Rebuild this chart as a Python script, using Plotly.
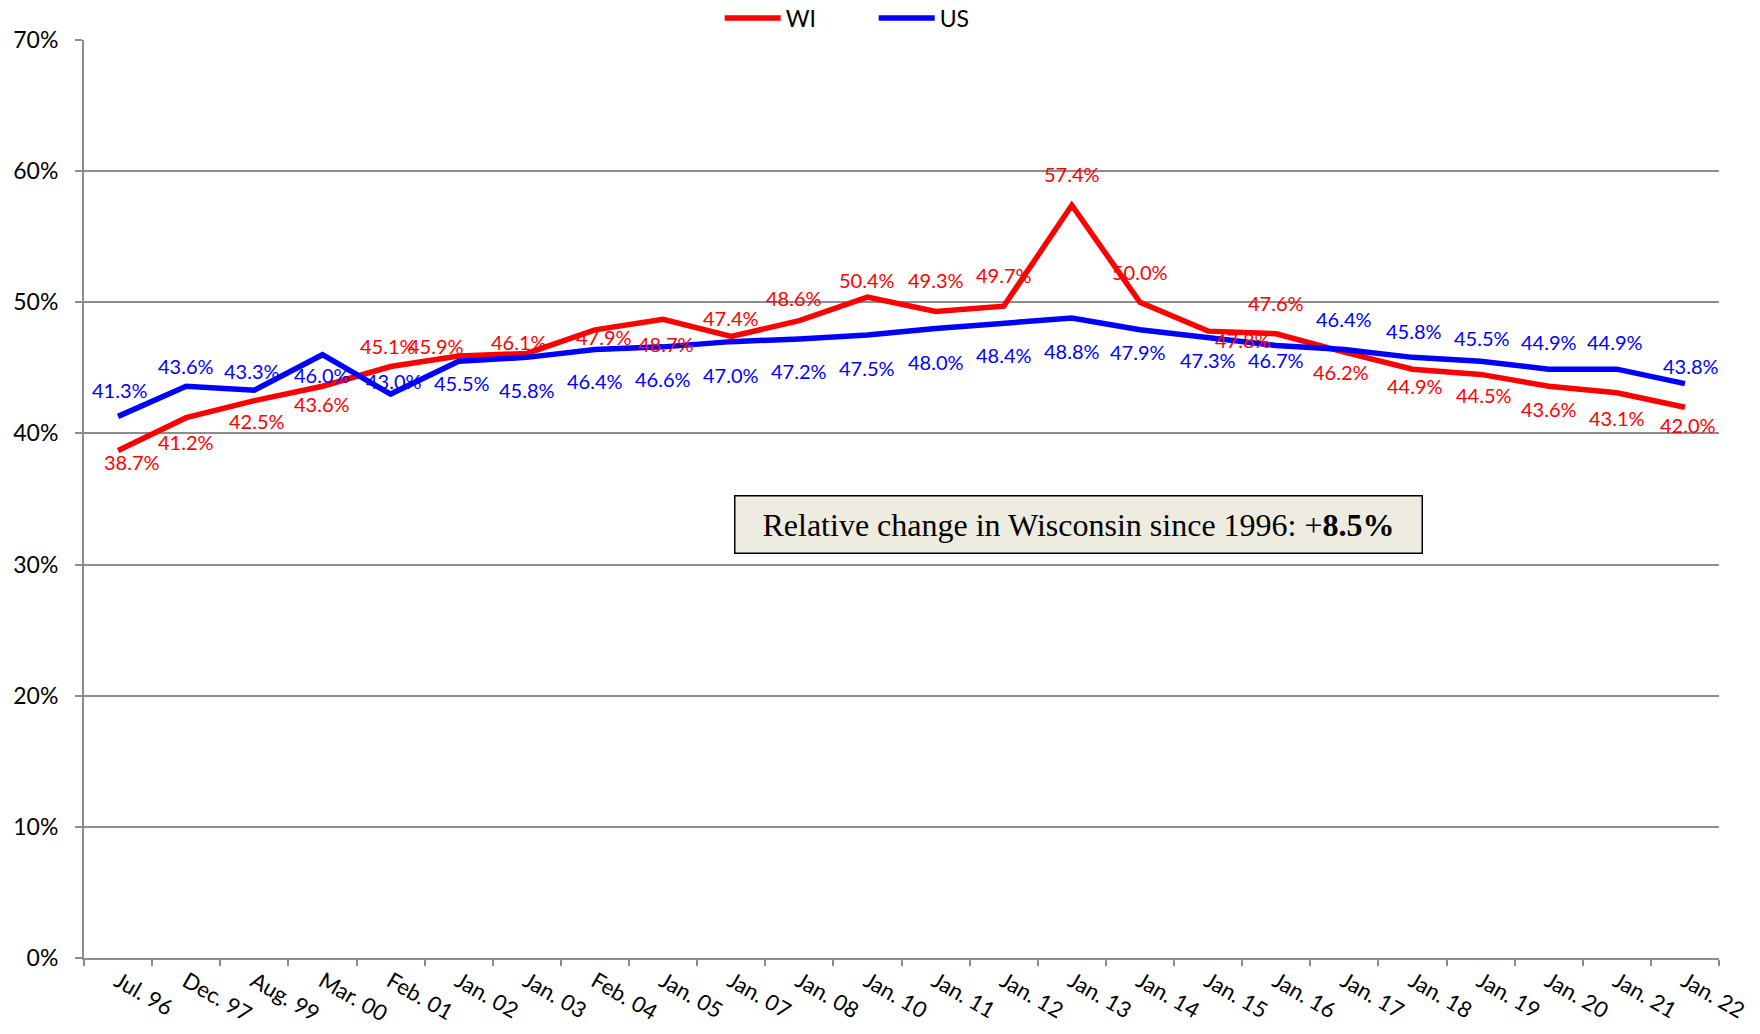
import plotly.graph_objects as go

categories = ["Jul. 96", "Dec. 97", "Aug. 99", "Mar. 00", "Feb. 01", "Jan. 02", "Jan. 03",
              "Feb. 04", "Jan. 05", "Jan. 07", "Jan. 08", "Jan. 10", "Jan. 11", "Jan. 12",
              "Jan. 13", "Jan. 14", "Jan. 15", "Jan. 16", "Jan. 17", "Jan. 18", "Jan. 19",
              "Jan. 20", "Jan. 21", "Jan. 22"]
wi_values = [38.7, 41.2, 42.5, 43.6, 45.1, 45.9, 46.1, 47.9, 48.7, 47.4, 48.6, 50.4, 49.3, 49.7,
             57.4, 50.0, 47.8, 47.6, 46.2, 44.9, 44.5, 43.6, 43.1, 42.0]
us_values = [41.3, 43.6, 43.3, 46.0, 43.0, 45.5, 45.8, 46.4, 46.6, 47.0, 47.2, 47.5, 48.0, 48.4,
             48.8, 47.9, 47.3, 46.7, 46.4, 45.8, 45.5, 44.9, 44.9, 43.8]
y_ticks = [0, 10, 20, 30, 40, 50, 60, 70]
box_text = "Relative change in Wisconsin since 1996: +<b>8.5%</b>"

# label pixel offsets (style only): dx right, dy down
wi_dx = [14, 0, 3, 0, -3, -23, -8, 9, 3, 0, -5, 0, 0, 0, 0, 0, 35, 0, -3, 3, 3, 0, 0, 3]
wi_dy = [12, 24, 20, 18, -21, -10, -11, 7, 25, -18, -23, -17, -31, -31, -31, -30, 9, -31, 20, 17, 21, 23, 25, 18]
us_dx = [2, 0, -2, 0, 3, 3, 0, 0, 0, 0, 0, 0, 0, 0, 0, -2, 0, 0, 0, 2, 1, 0, -2, 6]
us_dy = [-26, -20, -19, 20, -13, 22, 33, 31, 32, 33, 32, 33, 33, 32, 33, 22, 22, 14, -31, -26, -23, -27, -27, -18]

RED = "#FF0000"
BLUE = "#0000FF"
GRID = "#8C8C8C"
LABEL_FONT = "Lato"

fig = go.Figure()
fig.add_trace(go.Scatter(x=categories, y=wi_values, mode="lines", name="WI",
                         line=dict(color=RED, width=5.5)))
fig.add_trace(go.Scatter(x=categories, y=us_values, mode="lines", name="US",
                         line=dict(color=BLUE, width=5.5)))

annotations = []
for vals, dxs, dys, col in [(wi_values, wi_dx, wi_dy, RED), (us_values, us_dx, us_dy, BLUE)]:
    for c, v, dx, dy in zip(categories, vals, dxs, dys):
        annotations.append(dict(x=c, y=v, xref="x", yref="y", text=f"{v:.1f}%",
                                showarrow=False, xshift=dx, yshift=-dy,
                                font=dict(family=LABEL_FONT, size=20, color=col)))

annotations.append(dict(x=0.6084, y=0.4717, xref="paper", yref="paper", text=box_text,
                        showarrow=False, bgcolor="#EEECE1", bordercolor="#000000",
                        borderwidth=1.5, borderpad=8, width=670, height=40,
                        font=dict(family="Liberation Serif", size=32, color="#000000")))

fig.update_layout(
    width=1760, height=1034,
    margin=dict(l=83.5, r=41, t=40, b=76, autoexpand=False),
    paper_bgcolor="white", plot_bgcolor="white",
    showlegend=True,
    legend=dict(orientation="h", x=0.483, xanchor="center", y=1.024, yanchor="middle",
                entrywidth=83, entrywidthmode="pixels", itemwidth=56,
                font=dict(family=LABEL_FONT, size=23, color="#000"), bgcolor="rgba(0,0,0,0)"),
    annotations=annotations,
    xaxis=dict(type="category", range=[-0.5, len(categories) - 0.5], tickson="boundaries",
               ticks="outside", ticklen=6, tickwidth=2, tickcolor=GRID, showline=True,
               linecolor=GRID, linewidth=2, showgrid=False, tickangle=30, automargin=False,
               tickfont=dict(family=LABEL_FONT, size=22, color="#000")),
    yaxis=dict(range=[0, 70], tickvals=y_ticks, ticktext=[f"{t}%" for t in y_ticks],
               showgrid=True, gridcolor=GRID, gridwidth=1.5, showline=True, linecolor=GRID,
               linewidth=2, ticks="outside", ticklen=7, tickwidth=2, tickcolor=GRID,
               zeroline=False, ticklabelstandoff=12, automargin=False,
               tickfont=dict(family=LABEL_FONT, size=23, color="#000")),
)

fig.write_html("out.html", config={"displayModeBar": False},
               post_script="document.body.style.margin='0';")
